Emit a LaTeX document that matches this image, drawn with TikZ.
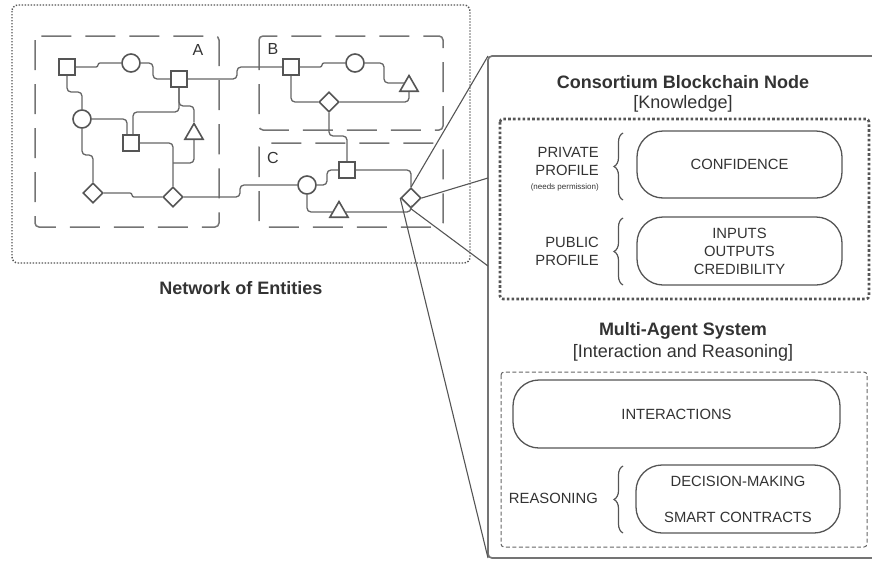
\documentclass[tikz,border=0pt]{standalone}
\usepackage{fontspec}
\setmainfont{Liberation Sans}
\usetikzlibrary{shapes.geometric,decorations.pathreplacing}

\definecolor{inkc}{HTML}{333333}
\definecolor{edgec}{HTML}{555555}
\definecolor{wirec}{HTML}{666666}
\definecolor{framec}{HTML}{747474}

\begin{document}
\begin{tikzpicture}[x=1pt,y=-1pt,
  every node/.style={text=inkc},
  % entities of the network
  ent/.style={draw=edgec, line width=1.6pt, fill=white, inner sep=0pt},
  sq/.style={ent, rectangle, minimum size=16.5pt},
  circ/.style={ent, circle, minimum size=18pt},
  tri/.style={ent, regular polygon, regular polygon sides=3, minimum size=21pt},
  dia/.style={ent, diamond, minimum size=20pt},
  wire/.style={draw=wirec, line width=1.3pt, rounded corners=4pt},
  jog/.style={wire, rounded corners=2pt},
  grp/.style={draw=framec, line width=1.5pt, rounded corners=4pt, dash pattern=on 30pt off 14pt},
  grplabel/.style={font=\fontsize{16}{18}\selectfont, anchor=base, inner sep=0pt},
  netframe/.style={draw=edgec, line width=1.4pt, rounded corners=6pt, dash pattern=on 1.4pt off 1.6pt},
  % enlarged view
  callout/.style={draw=edgec, line width=1.1pt},
  panel/.style={draw=framec, line width=1.7pt, rounded corners=4pt},
  kbox/.style={draw=edgec, line width=2.6pt, rounded corners=3pt, dash pattern=on 2.6pt off 2.2pt},
  mbox/.style={draw=wirec, line width=1pt, rounded corners=3pt, dash pattern=on 4pt off 2.5pt},
  pill/.style={draw=edgec, line width=1.3pt, rounded corners=26pt, align=center,
    font=\fontsize{14.8}{18}\selectfont, inner sep=0pt},
  ttl/.style={font=\fontsize{18}{20}\selectfont\bfseries, anchor=base, inner sep=0pt},
  sub/.style={font=\fontsize{18}{20}\selectfont, anchor=base, inner sep=0pt},
  side/.style={font=\fontsize{14.8}{18}\selectfont, anchor=base east, inner sep=0pt},
  tiny/.style={font=\fontsize{8}{9}\selectfont, anchor=base east, inner sep=0pt},
  brc/.style={draw=edgec, line width=1.2pt, decorate, decoration={brace, amplitude=9pt}},
]
\useasboundingbox (0,0) rectangle (872,560);

% ---------- network of entities ----------
\draw[netframe] (12,5) rectangle (470,263);
\draw[grp] (35,36) rectangle (219,227);
\draw[grp] (259,36) rectangle (443,130);
\draw[grp] (259,143) rectangle (443,227);
\node[grplabel] (labA) at (198,55) {A};
\node[grplabel] (labB) at (273,54) {B};
\node[grplabel] (labC) at (273,163) {C};

\node[sq]   (S1) at (67,67) {};
\node[circ] (O1) at (131,63) {};
\node[sq]   (S2) at (179,79) {};
\node[circ] (O2) at (82,119) {};
\node[sq]   (S3) at (131,143) {};
\node[tri]  (T1) at (194,134) {};
\node[dia]  (D1) at (93,193) {};
\node[dia]  (D2) at (173,197) {};
\node[sq]   (S4) at (291,67) {};
\node[circ] (O3) at (355,63) {};
\node[tri]  (T2) at (409,86) {};
\node[dia]  (D3) at (329,102) {};
\node[sq]   (S5) at (347,170) {};
\node[circ] (O4) at (307,185) {};
\node[tri]  (T3) at (339,212) {};
\node[dia]  (D4) at (411,198) {};
\coordinate (m1) at (173,163);

\draw[jog]  (S1.east) -- (98,67) -- (98,63) -- (O1.west);
\draw[wire] (O1.east) -- (153,63) -- (153,79) -- (S2.west);
\draw[wire] (S2.east) -- (237,79) -- (237,67) -- (S4.west);
\draw[wire] (S1.south) -- (67,92) -- (82,92) -- (O2.north);
\draw[wire] (O2.east) -| ([xshift=-4pt]S3.north);
\draw[wire] (S2.south) -- (179,112) -| ([xshift=2pt]S3.north);
\draw[wire] (S2.south) -- (179,106) -| (T1.north);
\draw[wire] (O2.south) -- (82,155) -- (93,155) -- (D1.north);
\draw[wire] (S3.east) -| (D2.north);
\draw[wire] (T1.south) |- (m1);
\draw[jog]  (D1.east) -- (132,193) -- (132,197) -- (D2.west);
\draw[wire] (D2.east) -- (240,197) -- (240,185) -- (O4.west);
\draw[jog]  (S4.east) -- (322,67) -- (322,63) -- (O3.west);
\draw[wire] (O3.east) -- (384,63) |- (T2.side 1);
\draw[wire] (S4.south) |- (D3.west);
\draw[wire] (D3.east) -| (T2.south);
\draw[wire] (D3.south) -- (329,136) -- (347,136) -- (S5.north);
\draw[wire] (O4.east) -- (327,185) -- (327,170) -- (S5.west);
\draw[wire] (S5.east) -| (D4.north);
\draw[wire] (O4.south) |- (T3.west);
\draw[wire] (T3.east) -| (D4.south);

\node[ttl] (noe) at (241,294) {Network of Entities};

% ---------- enlarged view of one entity ----------
\coordinate (pTL) at (488,56);
\coordinate (pA)  at (488,178);
\coordinate (pB)  at (488,266);
\coordinate (pBL) at (488,558);
\draw[panel] (900,56) -- (pTL) -- (pBL) -- (900,558);
\draw[callout] (D4.north) -- (pTL);
\draw[callout] (D4.east) -- (pA);
\draw[callout] (D4.south) -- (pB);
\draw[callout] (D4.west) -- (pBL);

\node[ttl] (cbn) at (683,88) {Consortium Blockchain Node};
\node[sub] (kn)  at (683,108) {[Knowledge]};
\draw[kbox] (500,119) rectangle (869,299);

\node[side] (prv1) at (599,157) {PRIVATE};
\node[side] (prv2) at (599,175) {PROFILE};
\node[tiny] (prv3) at (599,189) {(needs permission)};
\draw[brc] (623,200) -- (623,133);
\node[pill, minimum width=205pt, minimum height=67pt] (conf) at (739.5,164.5) {CONFIDENCE};

\node[side] (pub1) at (599,247) {PUBLIC};
\node[side] (pub2) at (599,265) {PROFILE};
\draw[brc] (623,285) -- (623,218);
\node[pill, minimum width=205pt, minimum height=68pt] (ioc) at (739.5,251) {INPUTS\\OUTPUTS\\CREDIBILITY};

\node[ttl] (mas) at (683,335) {Multi-Agent System};
\node[sub] (iar) at (683,357) {[Interaction and Reasoning]};
\draw[mbox] (501,372) rectangle (867,547);

\node[pill, minimum width=327pt, minimum height=68pt] (inter) at (676.5,414) {INTERACTIONS};
\node[side] (reas) at (598,503) {REASONING};
\draw[brc] (623,533) -- (623,466);
\node[pill, minimum width=204pt, minimum height=68pt, font=\fontsize{14.8}{36}\selectfont] (dm) at (738,499) {DECISION-MAKING\\SMART CONTRACTS};
\end{tikzpicture}
\end{document}
